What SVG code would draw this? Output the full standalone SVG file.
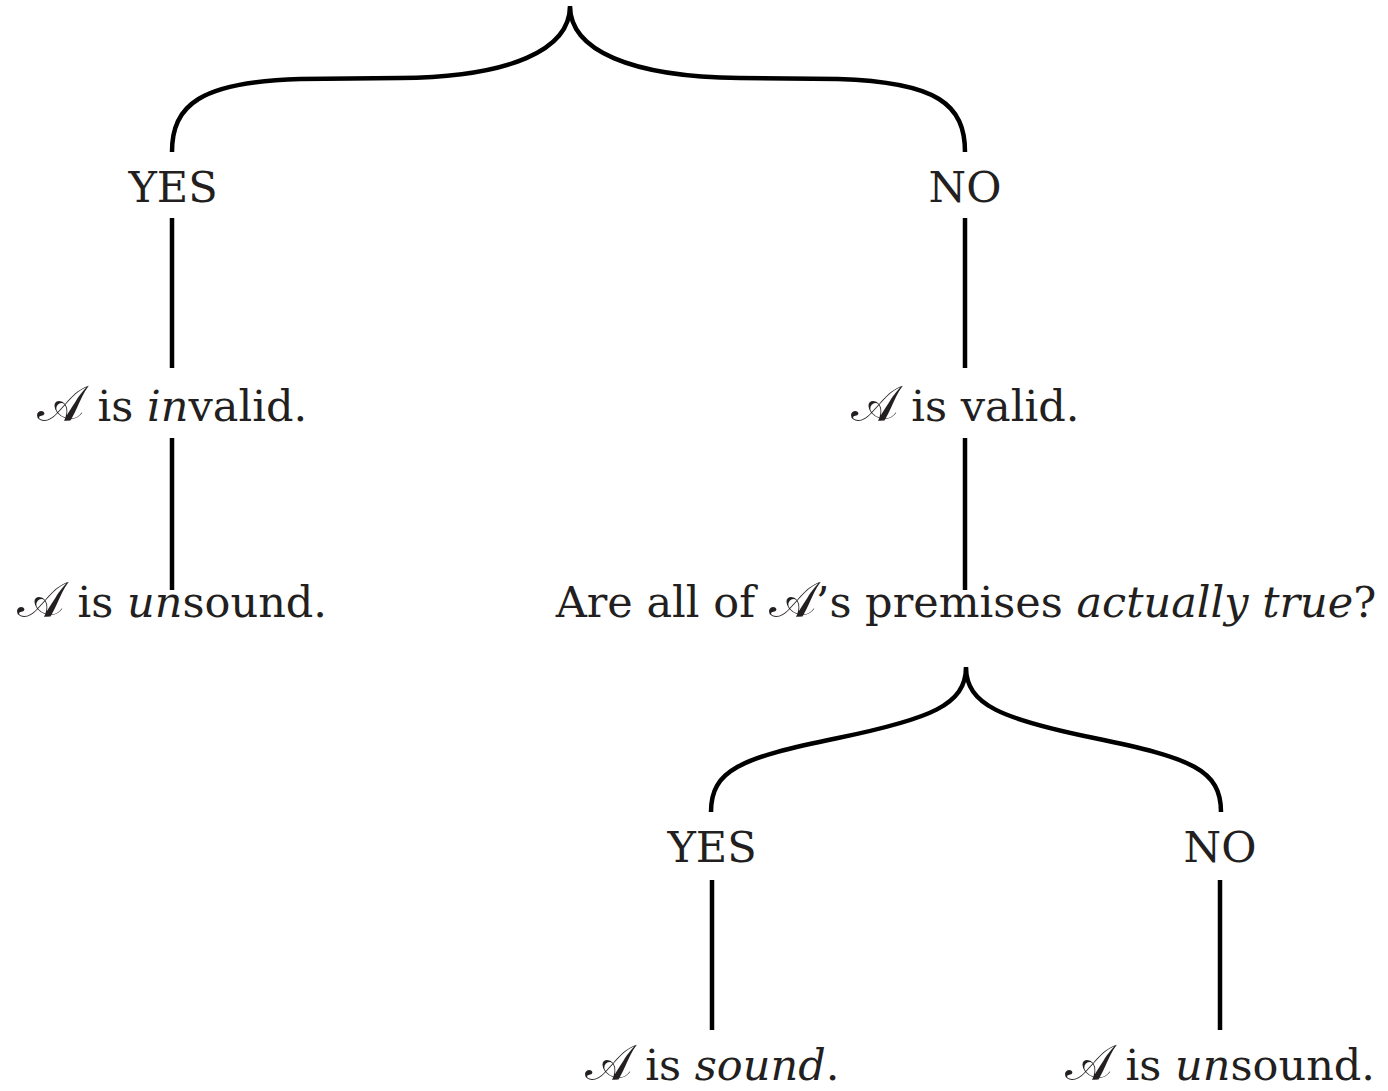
<svg xmlns="http://www.w3.org/2000/svg" width="1388" height="1091" viewBox="0 0 1388 1091">
<style>
text{font-family:"DejaVu Serif","Liberation Serif",serif;font-size:43px;fill:#231f20;text-anchor:middle}
.i{font-style:italic}
.a{font-size:50px}
.c{fill:none;stroke:#000;stroke-width:4.5}
</style>
<rect width="1388" height="1091" fill="#fff"/>
<g id="connectors">
<path class="c" d="M172,152 C172,105 200,82 300,79 L400,78 C510,77 570,50 570,6 C570,50 630,77 740,78 L838,79 C938,82 965,105 965,152"/>
<path class="c" d="M172,218 V368 M172,438 V590 M965,218 V368 M965,438 V590"/>
<path class="c" d="M711,812 C711,770 740,758 838,738 C930,719 966,705 966,667 C966,705 1002,719 1094,738 C1192,758 1221,770 1221,812"/>
<path class="c" d="M712,880 V1030 M1220,880 V1030"/>
</g>
<g id="n-yes1"><text x="173" y="202">YES</text></g>
<g id="n-no1"><text x="965" y="202">NO</text></g>
<g id="n-invalid"><text x="172" y="421"><tspan class="a">𝒜</tspan> is <tspan class="i">in</tspan>valid.</text></g>
<g id="n-valid"><text x="965" y="421"><tspan class="a">𝒜</tspan> is valid.</text></g>
<g id="n-unsound1"><text x="172" y="617"><tspan class="a">𝒜</tspan> is <tspan class="i">un</tspan>sound.</text></g>
<g id="n-question"><text x="966" y="617">Are all of <tspan class="a">𝒜</tspan>’s premises <tspan class="i">actually true</tspan>?</text></g>
<g id="n-yes2"><text x="712" y="862">YES</text></g>
<g id="n-no2"><text x="1220" y="862">NO</text></g>
<g id="n-sound"><text x="712" y="1080"><tspan class="a">𝒜</tspan> is <tspan class="i">sound</tspan>.</text></g>
<g id="n-unsound2"><text x="1220" y="1080"><tspan class="a">𝒜</tspan> is <tspan class="i">un</tspan>sound.</text></g>
</svg>
